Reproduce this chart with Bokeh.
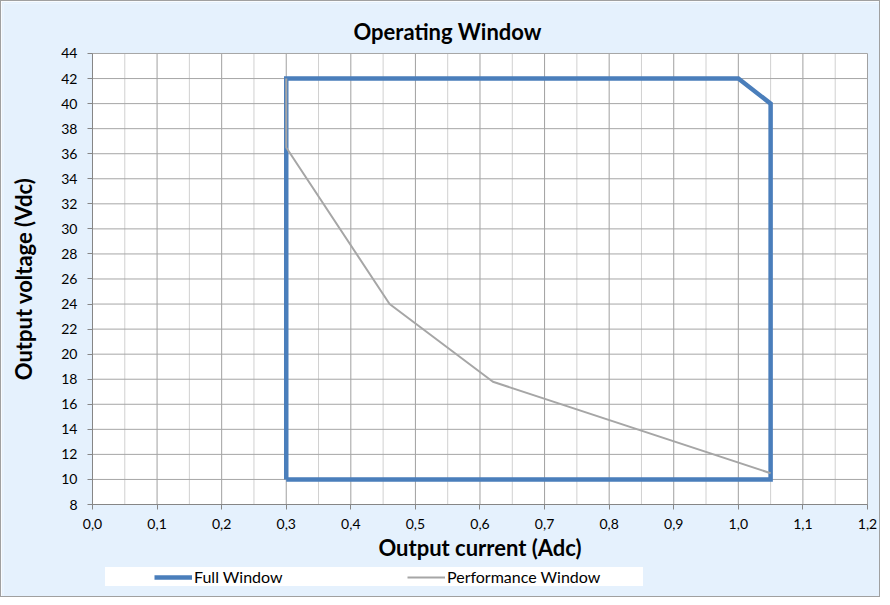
from bokeh.plotting import figure
from bokeh.models import FixedTicker, CustomJSTickFormatter, Legend, LegendItem, Label
from bokeh.embed import file_html
from bokeh.resources import INLINE

# ---- data ----
x_ticks = [0.0, 0.1, 0.2, 0.3, 0.4, 0.5, 0.6, 0.7, 0.8, 0.9, 1.0, 1.1, 1.2]
x_minor = [0.05, 0.15, 0.25, 0.35, 0.45, 0.55, 0.65, 0.75, 0.85, 0.95, 1.05, 1.15]
y_ticks = [8, 10, 12, 14, 16, 18, 20, 22, 24, 26, 28, 30, 32, 34, 36, 38, 40, 42, 44]

full_x = [0.3, 0.3, 1.0, 1.05, 1.05, 0.3]
full_y = [10, 42, 42, 40, 10, 10]

perf_x = [0.3, 0.3, 0.46, 0.62, 1.05]
perf_y = [42, 36.5, 24.0, 17.8, 10.5]

TITLE = "Operating Window"
FONT = "Lato"
BG = "#E5F1FD"

x0, x1 = x_ticks[0], x_ticks[-1]
y0, y1 = y_ticks[0], y_ticks[-1]

# The frame covers almost the whole canvas; the plot box (x0..x1, y0..y1) sits inside it,
# so title, axes, their labels and the legend are all drawn inside the frame.
p = figure(width=880, height=597, output_backend="svg", toolbar_location=None,
           x_range=(-0.1378, 1.2186), y_range=(0.6564, 47.991),
           min_border_left=2, min_border_right=2, min_border_top=2, min_border_bottom=2)
p.border_fill_color = BG
p.background_fill_color = BG
p.outline_line_color = None
p.styles = {"border": "1px solid #A0A0A0"}

p.add_layout(Label(x=0.5497, y=45.75, text=TITLE, text_font=FONT, text_font_size="22px",
                   text_font_style="bold", text_color="black", text_align="center",
                   text_baseline="middle"))

# plot box (white) and grid lines
p.quad(left=[x0], right=[x1], bottom=[y0], top=[y1], fill_color="white", line_color=None)
p.segment(x0=x_minor, y0=[y0] * len(x_minor), x1=x_minor, y1=[y1] * len(x_minor),
          line_color="#D0D0D0", line_width=1)
p.segment(x0=x_ticks, y0=[y0] * len(x_ticks), x1=x_ticks, y1=[y1] * len(x_ticks),
          line_color="#A0A0A0", line_width=1)
p.segment(x0=[x0] * len(y_ticks), y0=y_ticks, x1=[x1] * len(y_ticks), y1=y_ticks,
          line_color="#A6A6A6", line_width=1)
p.xgrid.visible = False
p.ygrid.visible = False

# axes
p.xaxis.ticker = FixedTicker(ticks=x_ticks)
p.yaxis.ticker = FixedTicker(ticks=y_ticks)
p.xaxis.formatter = CustomJSTickFormatter(code="return tick.toFixed(1).replace('.', ',');")
p.xaxis.fixed_location = y0
p.yaxis.fixed_location = x0
p.xaxis.bounds = (x0, x1)
p.yaxis.bounds = (y0, y1)
for ax in (p.xaxis[0], p.yaxis[0]):
    ax.axis_line_color = "#868686"
    ax.major_tick_line_color = "#868686"
    ax.major_tick_out = 5
    ax.major_tick_in = 0
    ax.minor_tick_line_color = None
    ax.major_label_text_font = FONT
    ax.major_label_text_font_size = "14px"
    ax.major_label_text_color = "black"
    ax.axis_label_text_font = FONT
    ax.axis_label_text_font_style = "bold"
    ax.axis_label_text_font_size = "22px"
    ax.axis_label_text_color = "black"

p.xaxis.axis_label = "Output current (Adc)"
p.yaxis.axis_label = "Output voltage (Vdc)"
p.xaxis.major_label_standoff = 9
p.yaxis.major_label_standoff = 10
p.xaxis.axis_label_standoff = 2
p.yaxis.axis_label_standoff = 21

r_full = p.line(full_x, full_y, line_color="#4A7EBB", line_width=4.5, line_join="miter")
r_perf = p.line(perf_x, perf_y, line_color="#A6A6A6", line_width=2)

legend = Legend(items=[LegendItem(label="Full Window", renderers=[r_full]),
                       LegendItem(label="Performance Window", renderers=[r_perf])],
                location=(102, 10), orientation="horizontal",
                glyph_width=38, glyph_height=16, label_standoff=2,
                padding=4, margin=0, label_text_font=FONT, label_text_font_size="16px",
                label_text_color="black", background_fill_color="white",
                background_fill_alpha=1.0, border_line_color=None,
                label_width=196, spacing=17)
if "title_location" in Legend.properties():
    legend.title = " "
    legend.title_location = "left"
    legend.title_text_font_size = "8px"
    legend.title_standoff = 40
p.add_layout(legend, "center")

open("out.html", "w").write(file_html(p, INLINE))
